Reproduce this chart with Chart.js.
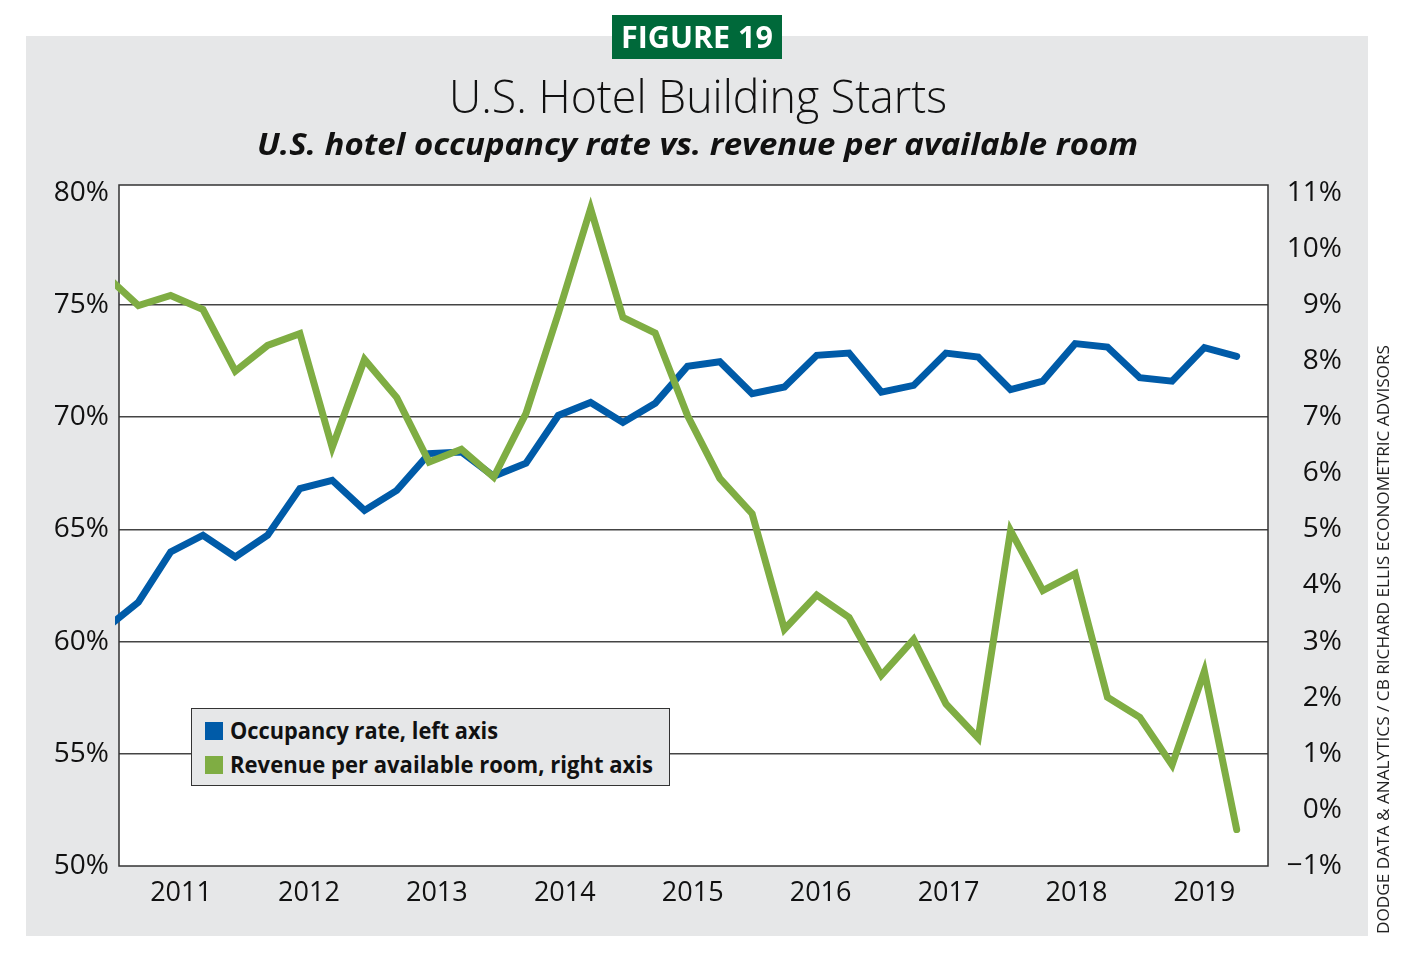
<!DOCTYPE html>
<html>
<head>
<meta charset="utf-8">
<script src="https://cdn.jsdelivr.net/npm/chart.js@4.4.1/dist/chart.umd.min.js"></script>
<style>
  html, body { margin:0; padding:0; background:#fff; width:1409px; height:959px; overflow:hidden;
    font-family:"Open Sans","Noto Sans",sans-serif; }
  #panel { position:absolute; left:26px; top:36px; width:1342px; height:900px; background:#e6e7e8; }
  #badge { position:absolute; left:612px; top:15px; width:170px; height:44px; background:#00693a; }
  #c { position:absolute; left:0; top:0; }
  .fit { position:absolute; white-space:nowrap; line-height:1; transform-origin:0 0; color:#111; }
  #legend { position:absolute; left:191px; top:708px; width:477px; height:76px;
    background:#e6e7e8; border:1.5px solid #333; }
  .sw { position:absolute; width:18px; height:18px; }
</style>
</head>
<body>
<div id="panel"></div>
<div id="badge"></div>
<canvas id="c" width="1409" height="959"></canvas>
<div id="legend"></div>
<span class="fit" id="badgeText" style="color:#fff;font-weight:700">FIGURE 19</span>
<span class="fit" id="title" style="font-weight:300">U.S. Hotel Building Starts</span>
<span class="fit" id="subtitle" style="font-weight:700;font-style:italic">U.S. hotel occupancy rate vs. revenue per available room</span>
<span class="fit" id="source" style="color:#222">DODGE DATA &amp; ANALYTICS / CB RICHARD ELLIS ECONOMETRIC ADVISORS</span>

<script>
// ---------- data ----------
const yearLabels = ['2011','2012','2013','2014','2015','2016','2017','2018','2019'];
const occupancyLabel = 'Occupancy rate, left axis';
const revparLabel = 'Revenue per available room, right axis';
// quarterly occupancy rate (%), left axis
const occupancy = [60.6, 61.76, 64.0, 64.74, 63.77, 64.74, 66.82, 67.19, 65.85, 66.74,
  68.38, 68.45, 67.37, 67.95, 70.08, 70.66, 69.77, 70.62, 72.27, 72.47,
  71.05, 71.35, 72.76, 72.86, 71.12, 71.42, 72.86, 72.68, 71.23, 71.61,
  73.28, 73.13, 71.76, 71.61, 73.10, 72.71];
// quarterly RevPAR change (%), right axis
const revpar = [9.52, 8.99, 9.17, 8.92, 7.82, 8.28, 8.49, 6.46, 8.03, 7.35,
  6.20, 6.43, 5.93, 7.07, 8.85, 10.72, 8.78, 8.50, 7.03, 5.91,
  5.28, 3.22, 3.83, 3.43, 2.40, 3.04, 1.89, 1.28, 4.98, 3.91,
  4.21, 2.01, 1.65, 0.80, 2.47, -0.35];
const leftTicks = [50, 55, 60, 65, 70, 75, 80];
const rightTicks = [-1, 0, 1, 2, 3, 4, 5, 6, 7, 8, 9, 10, 11];

const BLUE = '#005ba8';
const GREEN = '#7fad43';
const FONT = '"Open Sans","Noto Sans",sans-serif';

// ---------- legend (HTML) ----------
const legend = document.getElementById('legend');
[[BLUE, 13], [GREEN, 47]].forEach(([col, top]) => {
  const s = document.createElement('div');
  s.className = 'sw'; s.style.background = col; s.style.left = '13px'; s.style.top = top + 'px';
  legend.appendChild(s);
});
function addLegendText(id, txt) {
  const e = document.createElement('span');
  e.className = 'fit'; e.id = id; e.textContent = txt; e.style.fontWeight = '700';
  document.body.appendChild(e);
}
addLegendText('leg1', occupancyLabel);
addLegendText('leg2', revparLabel);

// ---------- text fitting ----------
function fit(id, left, capCenter, size, width) {
  const el = document.getElementById(id);
  el.style.fontSize = size + 'px';
  el.style.transform = 'none';
  el.style.left = left + 'px';
  el.style.top = (capCenter - 0.531 * size) + 'px';
  const w = el.getBoundingClientRect().width;
  el.style.transform = 'scaleX(' + (width / w) + ')';
}
function fitVertical(id, centerX, bottom, size, length) {
  const el = document.getElementById(id);
  el.style.fontSize = size + 'px';
  el.style.transform = 'none';
  const w = el.getBoundingClientRect().width;
  el.style.left = centerX + 'px';
  el.style.top = bottom + 'px';
  el.style.transform = 'rotate(-90deg) translateY(-50%) scaleX(' + (length / w) + ')';
}
function layoutTexts() {
  fit('badgeText', 621, 37.5, 30, 152);
  fit('title', 449, 96.5, 46, 498);
  fit('subtitle', 257, 144, 31, 881);
  fit('leg1', 229.5, 731.7, 23, 268);
  fit('leg2', 229.5, 765.7, 23, 423);
  fitVertical('source', 1383, 934, 16, 589);
}
layoutTexts();
if (document.fonts && document.fonts.ready) document.fonts.ready.then(layoutTexts);

// ---------- chart ----------
const bgPlugin = {
  id: 'bg',
  beforeDraw(chart) {
    const {ctx, chartArea: a} = chart;
    ctx.save();
    ctx.fillStyle = '#fff';
    ctx.fillRect(a.left, a.top, a.right - a.left, a.bottom - a.top);
    ctx.restore();
  },
  beforeDatasetsDraw(chart) {
    const {ctx, chartArea: a} = chart;
    ctx.save();
    ctx.strokeStyle = '#333';
    ctx.lineWidth = 1.5;
    ctx.strokeRect(a.left, a.top, a.right - a.left, a.bottom - a.top);
    ctx.restore();
  }
};

const lineClip = { left: 4, top: 10, right: 4, bottom: 10 };

new Chart(document.getElementById('c'), {
  type: 'line',
  data: {
    datasets: [
      { label: revparLabel, data: revpar.map((v, i) => ({x: i, y: v})), yAxisID: 'y1',
        borderColor: GREEN, backgroundColor: GREEN, borderWidth: 7, pointRadius: 0, tension: 0,
        borderCapStyle: 'round', borderJoinStyle: 'miter', order: 0, clip: lineClip },
      { label: occupancyLabel, data: occupancy.map((v, i) => ({x: i, y: v})), yAxisID: 'y',
        borderColor: BLUE, backgroundColor: BLUE, borderWidth: 7, pointRadius: 0, tension: 0,
        borderCapStyle: 'round', borderJoinStyle: 'miter', order: 1, clip: lineClip }
    ]
  },
  options: {
    responsive: false,
    animation: false,
    events: [],
    layout: { padding: { top: 185, left: 0, right: 67, bottom: 0 } },
    plugins: { legend: { display: false }, tooltip: { enabled: false }, title: { display: false } },
    scales: {
      x: {
        type: 'linear', min: 0.4, max: 35.97,
        grid: { display: false, drawTicks: false }, border: { display: false },
        afterBuildTicks: (a) => { a.ticks = yearLabels.map((l, k) => ({ value: 2.32 + 3.96 * k })); },
        ticks: { autoSkip: false, maxRotation: 0, minRotation: 0, padding: 11, color: '#111',
          font: { family: FONT, size: 27 }, callback: (v, i) => yearLabels[i] },
        afterFit: (s) => { s.height = 93; }
      },
      y: {
        position: 'left', min: 50, max: 80.35,
        afterBuildTicks: (a) => { a.ticks = leftTicks.map(v => ({ value: v })); },
        ticks: { padding: 10, color: '#111', font: { family: FONT, size: 28 }, callback: (v) => v + '%' },
        grid: { drawTicks: false, lineWidth: 1.5,
          color: (c) => (c.tick && (c.tick.value === 50 || c.tick.value === 80)) ? 'rgba(0,0,0,0)' : '#444' },
        border: { display: false },
        afterFit: (s) => { s.width = 119; }
      },
      y1: {
        position: 'right', min: -1, max: 11.14,
        afterBuildTicks: (a) => { a.ticks = rightTicks.map(v => ({ value: v })); },
        ticks: { padding: 15, crossAlign: 'far', color: '#111', font: { family: FONT, size: 28 },
          callback: (v) => (v < 0 ? '\u2212' + Math.abs(v) : v) + '%' },
        grid: { display: false, drawTicks: false }, border: { display: false },
        afterFit: (s) => { s.width = 74; }
      }
    }
  },
  plugins: [bgPlugin]
});
</script>
</body>
</html>
